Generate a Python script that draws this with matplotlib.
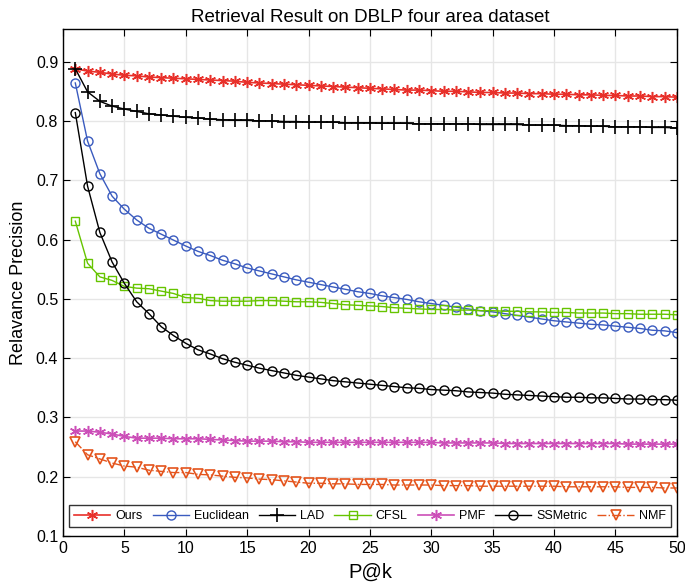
import matplotlib
matplotlib.use('Agg')
import matplotlib.pyplot as plt
import numpy as np

plt.rcParams['font.family'] = ['Liberation Sans', 'DejaVu Sans']

k = np.arange(1, 51)

ours = [0.888, 0.884, 0.882, 0.879, 0.877, 0.876, 0.874, 0.873, 0.872, 0.871,
        0.870, 0.869, 0.868, 0.867, 0.865, 0.864, 0.863, 0.862, 0.861, 0.860,
        0.859, 0.858, 0.857, 0.856, 0.855, 0.854, 0.853, 0.852, 0.852, 0.851,
        0.850, 0.850, 0.849, 0.848, 0.848, 0.847, 0.847, 0.846, 0.846, 0.845,
        0.845, 0.844, 0.844, 0.843, 0.843, 0.842, 0.842, 0.841, 0.841, 0.840]

euclidean = [0.864, 0.766, 0.711, 0.673, 0.651, 0.633, 0.619, 0.609, 0.599, 0.589,
             0.580, 0.573, 0.565, 0.559, 0.552, 0.547, 0.542, 0.537, 0.532, 0.528,
             0.524, 0.520, 0.516, 0.512, 0.509, 0.505, 0.502, 0.499, 0.495, 0.492,
             0.489, 0.486, 0.483, 0.480, 0.478, 0.475, 0.472, 0.469, 0.466, 0.463,
             0.461, 0.459, 0.457, 0.456, 0.454, 0.452, 0.450, 0.447, 0.446, 0.443]

lad = [0.888, 0.849, 0.833, 0.825, 0.820, 0.816, 0.812, 0.810, 0.808, 0.806,
       0.805, 0.803, 0.802, 0.801, 0.801, 0.800, 0.800, 0.799, 0.799, 0.798,
       0.798, 0.798, 0.797, 0.797, 0.797, 0.796, 0.796, 0.796, 0.795, 0.795,
       0.795, 0.795, 0.795, 0.794, 0.794, 0.794, 0.794, 0.793, 0.793, 0.793,
       0.792, 0.792, 0.791, 0.791, 0.790, 0.790, 0.790, 0.789, 0.789, 0.788]

cfsl = [0.631, 0.560, 0.537, 0.531, 0.521, 0.518, 0.517, 0.513, 0.509, 0.502,
        0.501, 0.497, 0.496, 0.496, 0.496, 0.497, 0.497, 0.496, 0.495, 0.495,
        0.494, 0.492, 0.490, 0.489, 0.488, 0.487, 0.485, 0.484, 0.483, 0.482,
        0.482, 0.481, 0.481, 0.480, 0.480, 0.479, 0.479, 0.478, 0.478, 0.477,
        0.477, 0.476, 0.476, 0.476, 0.475, 0.475, 0.474, 0.474, 0.474, 0.473]

pmf = [0.277, 0.277, 0.275, 0.272, 0.268, 0.265, 0.265, 0.265, 0.264, 0.264,
       0.264, 0.263, 0.262, 0.261, 0.260, 0.260, 0.260, 0.259, 0.259, 0.258,
       0.258, 0.258, 0.258, 0.258, 0.258, 0.258, 0.258, 0.258, 0.258, 0.258,
       0.257, 0.257, 0.257, 0.257, 0.257, 0.256, 0.256, 0.256, 0.256, 0.256,
       0.256, 0.256, 0.256, 0.256, 0.256, 0.255, 0.255, 0.255, 0.255, 0.255]

ssmetric = [0.814, 0.690, 0.612, 0.562, 0.526, 0.495, 0.475, 0.453, 0.438, 0.425,
            0.414, 0.407, 0.399, 0.393, 0.388, 0.383, 0.379, 0.375, 0.371, 0.368,
            0.365, 0.362, 0.360, 0.358, 0.356, 0.354, 0.352, 0.350, 0.349, 0.347,
            0.346, 0.345, 0.343, 0.342, 0.341, 0.339, 0.338, 0.337, 0.336, 0.335,
            0.334, 0.334, 0.333, 0.333, 0.332, 0.331, 0.331, 0.330, 0.330, 0.329]

nmf = [0.259, 0.237, 0.230, 0.223, 0.218, 0.216, 0.211, 0.209, 0.207, 0.207,
       0.204, 0.203, 0.201, 0.199, 0.198, 0.196, 0.195, 0.193, 0.191, 0.189,
       0.189, 0.188, 0.188, 0.187, 0.187, 0.187, 0.186, 0.186, 0.186, 0.186,
       0.185, 0.185, 0.185, 0.184, 0.184, 0.184, 0.184, 0.184, 0.184, 0.184,
       0.183, 0.183, 0.183, 0.183, 0.183, 0.182, 0.182, 0.182, 0.181, 0.181]

fig = plt.figure(figsize=(6.85, 5.86), dpi=100)
ax = fig.add_axes([0.092, 0.0853, 0.896, 0.8652])

ax.plot(k, ours, '-', color='#e8302a', marker=(6, 2, 0), ms=8, mew=1.1, lw=1.2, label='Ours')
ax.plot(k, euclidean, '-', color='#3a5bbf', marker='o', ms=6.5, mfc='none', mew=1.0, lw=1.0, label='Euclidean')
ax.plot(k, lad, '-', color='black', marker='+', ms=10, mew=1.2, lw=1.0, label='LAD')
ax.plot(k, cfsl, '-', color='#66c400', marker='s', ms=5.5, mfc='none', mew=1.0, lw=1.0, label='CFSL')
ax.plot(k, pmf, '-', color='#cc4fb8', marker=(6, 2, 0), ms=8, mew=1.1, lw=1.2, label='PMF')
ax.plot(k, ssmetric, '-', color='black', marker='o', ms=6.5, mfc='none', mew=1.0, lw=1.0, label='SSMetric')
ax.plot(k, nmf, '-.', color='#e4541c', marker='v', ms=7, mfc='none', mew=1.2, lw=1.0, label='NMF')

ax.set_xlim(0, 50)
ax.set_ylim(0.1, 0.955)
ax.set_xticks(np.arange(0, 51, 5))
ax.set_yticks(np.arange(0.1, 0.91, 0.1))
ax.set_yticklabels(['0.1', '0.2', '0.3', '0.4', '0.5', '0.6', '0.7', '0.8', '0.9'])
ax.grid(True, color='#e6e6e6', lw=1.0)
ax.set_axisbelow(True)
ax.tick_params(direction='in', top=True, right=True, length=5, labelsize=11.5)
for s in ax.spines.values():
    s.set_linewidth(1.0)

ax.set_title('Retrieval Result on DBLP four area dataset', fontsize=13.5, pad=5)
ax.set_xlabel('P@k', fontsize=14.5, labelpad=5)
ax.set_ylabel('Relavance Precision', fontsize=13, labelpad=6)

leg = ax.legend(loc='lower center', ncol=7, fontsize=9, frameon=True, fancybox=False,
                edgecolor='black', handlelength=2.9, handletextpad=0.4, columnspacing=0.8,
                borderpad=0.4, borderaxespad=0, bbox_to_anchor=(0.5, 0.018))
leg.get_frame().set_linewidth(1.0)

fig.savefig('out.png', dpi=100)
